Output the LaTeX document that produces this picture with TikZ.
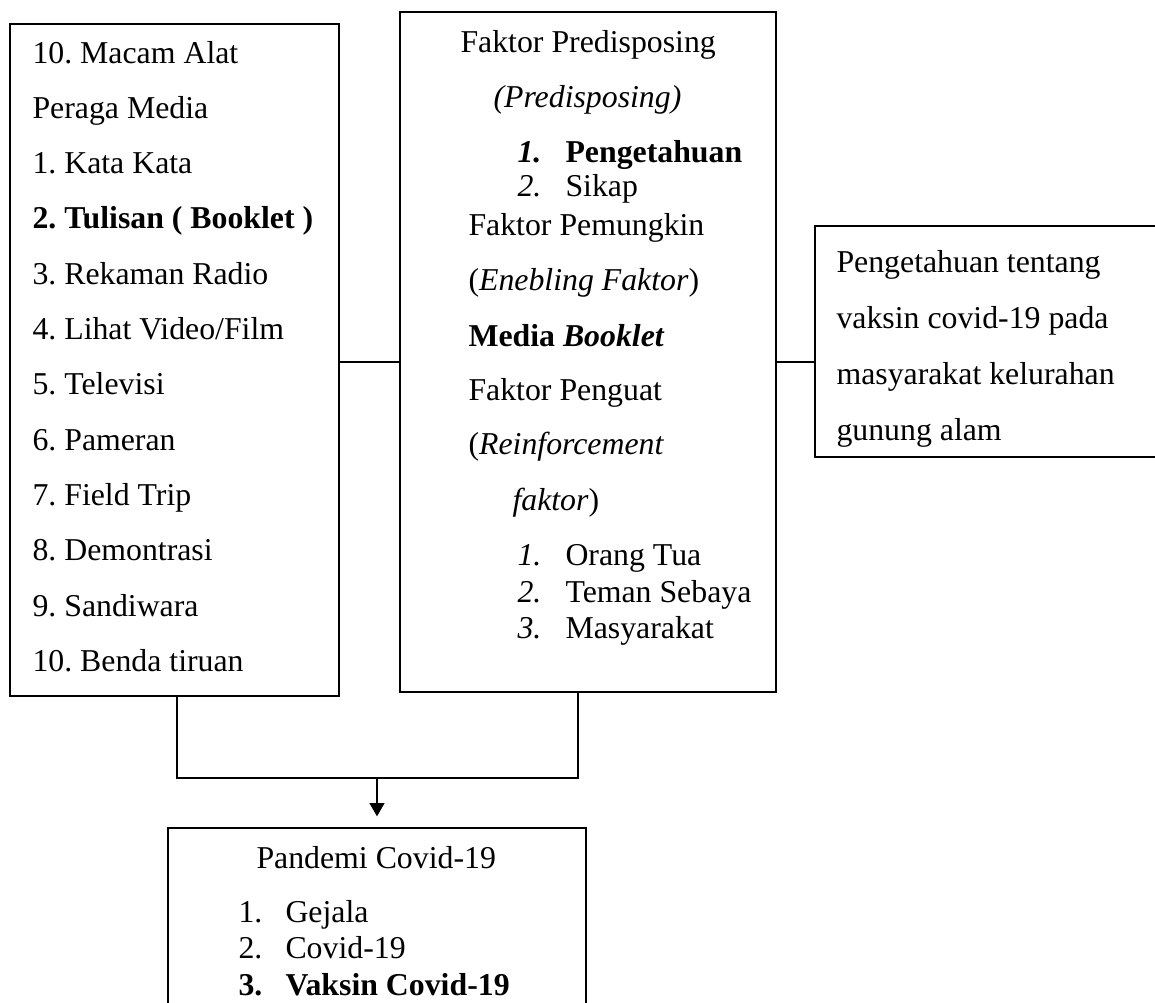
\documentclass[tikz,border=0pt]{standalone}
\usepackage{fontspec}
\setmainfont{Liberation Serif}
\usetikzlibrary{fit,arrows.meta}
\frenchspacing

\begin{document}
\begin{tikzpicture}[x=0.37736pt, y=-0.37736pt]
\tikzset{box/.style={draw, line width=0.75pt, inner sep=0pt},
         txt/.style={anchor=base west, inner sep=0pt, font=\fontsize{12}{14}\selectfont}}
        \clip (0,0) rectangle (1155,1002);

        % boxes
        \node[box, fit={(10,24) (339,696)}] (media) {};
        \node[box, fit={(400,12) (776,692)}] (faktor) {};
        \node[box, fit={(815,226) (1175,457)}] (hasil) {};
        \node[box, fit={(168,828) (586,1040)}] (pandemi) {};

        % left box
        \node[txt] (m0) at (32,63) {10. Macam Alat};
        \node[txt] (m1) at (32,118.3) {Peraga Media};
        \node[txt] (m2) at (32,173.6) {1. Kata Kata};
        \node[txt] (m3) at (32,228.9) {\textbf{2. Tulisan ( Booklet )}};
        \node[txt] (m4) at (32,284.2) {3. Rekaman Radio};
        \node[txt] (m5) at (32,339.5) {4. Lihat Video/Film};
        \node[txt] (m6) at (32,394.8) {5. Televisi};
        \node[txt] (m7) at (32,450.1) {6. Pameran};
        \node[txt] (m8) at (32,505.4) {7. Field Trip};
        \node[txt] (m9) at (32,560.7) {8. Demontrasi};
        \node[txt] (m10) at (32,616) {9. Sandiwara};
        \node[txt] (m11) at (32,671.3) {10. Benda tiruan};

        % middle box
        \node[txt] (f0) at (460,52) {Faktor Predisposing};
        \node[txt] (f1) at (493,107) {\textit{(Predisposing)}};
        \node[txt] (f2n) at (517,162) {\textbf{\textit{1.}}};
        \node[txt] (f2) at (565,162) {\textbf{Pengetahuan}};
        \node[txt] (f3n) at (517,196) {\textit{2.}};
        \node[txt] (f3) at (565,196) {Sikap};
        \node[txt] (f4) at (468,235) {Faktor Pemungkin};
        \node[txt] (f5) at (468,290) {(\textit{Enebling Faktor})};
        \node[txt] (f6) at (468,346) {\textbf{Media \textit{Booklet}}};
        \node[txt] (f7) at (468,400) {Faktor Penguat};
        \node[txt] (f8) at (468,454) {(\textit{Reinforcement}};
        \node[txt] (f9) at (512,510) {\textit{faktor})};
        \node[txt] (f10n) at (517,565) {\textit{1.}};
        \node[txt] (f10) at (565,565) {Orang Tua};
        \node[txt] (f11n) at (517,602) {\textit{2.}};
        \node[txt] (f11) at (565,602) {Teman Sebaya};
        \node[txt] (f12n) at (517,638) {\textit{3.}};
        \node[txt] (f12) at (565,638) {Masyarakat};

        % right box
        \node[txt] (h0) at (836,272) {Pengetahuan tentang};
        \node[txt] (h1) at (836,328) {vaksin covid-19 pada};
        \node[txt] (h2) at (836,384) {masyarakat kelurahan};
        \node[txt] (h3) at (836,440) {gunung alam};

        % bottom box
        \node[txt] (p0) at (256,868) {Pandemi Covid-19};
        \node[txt] (p1n) at (238,922) {1.};
        \node[txt] (p1) at (285,922) {Gejala};
        \node[txt] (p2n) at (238,958) {2.};
        \node[txt] (p2) at (285,958) {Covid-19};
        \node[txt] (p3n) at (238,995) {\textbf{3.}};
        \node[txt] (p3) at (285,995) {\textbf{Vaksin Covid-19}};

        % connectors
        \coordinate (lvl) at (0,362);
        \coordinate (jl) at (177,778);
        \coordinate (jm) at (377,778);
        \coordinate (jr) at (578,778);
        \draw[line width=0.75pt] (media.east |- lvl) -- (faktor.west |- lvl);
        \draw[line width=0.75pt] (faktor.east |- lvl) -- (hasil.west |- lvl);
        \draw[line width=0.75pt] (media.south -| jl) -- (jl) -- (jr) -- (faktor.south -| jr);
        \draw[line width=0.75pt, -{Triangle[length=5pt,width=5.5pt]}, shorten >=4pt] (jm) -- (pandemi.north -| jm);
\end{tikzpicture}
\end{document}
